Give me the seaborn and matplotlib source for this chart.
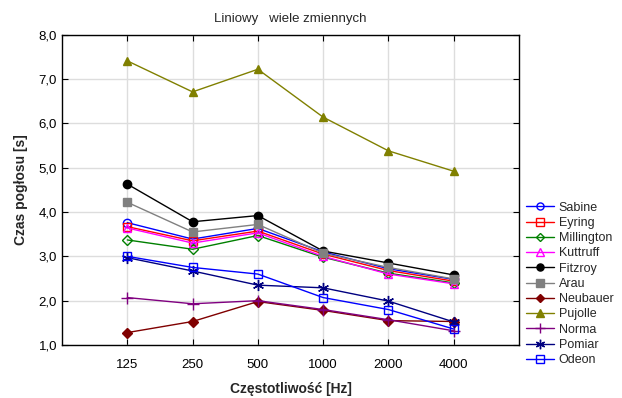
import matplotlib
matplotlib.use("Agg")
import matplotlib.pyplot as plt
import seaborn as sns
import pandas as pd

sns.set_style("white")
plt.rcParams['font.family'] = ['Liberation Sans', 'DejaVu Sans']

freqs = ["125", "250", "500", "1000", "2000", "4000"]
sabine = [3.76, 3.39, 3.63, 3.10, 2.72, 2.48]
eyring = [3.67, 3.35, 3.57, 3.05, 2.68, 2.44]
millington = [3.37, 3.16, 3.47, 2.98, 2.62, 2.40]
kuttruff = [3.64, 3.30, 3.53, 3.00, 2.60, 2.38]
fitzroy = [4.63, 3.78, 3.92, 3.12, 2.85, 2.58]
arau = [4.22, 3.55, 3.72, 3.07, 2.75, 2.49]
neubauer = [1.28, 1.53, 1.98, 1.78, 1.55, 1.53]
pujolle = [7.41, 6.71, 7.22, 6.14, 5.38, 4.92]
norma = [2.07, 1.93, 2.00, 1.80, 1.57, 1.32]
pomiar = [2.97, 2.67, 2.35, 2.29, 1.99, 1.52]
odeon = [3.00, 2.75, 2.60, 2.07, 1.80, 1.36]

series = [
    ("Sabine", sabine, "#0000FF", "o", False),
    ("Eyring", eyring, "#FF0000", "s", False),
    ("Millington", millington, "#008000", "D", False),
    ("Kuttruff", kuttruff, "#FF00FF", "^", False),
    ("Fitzroy", fitzroy, "#000000", "o", True),
    ("Arau", arau, "#808080", "s", True),
    ("Neubauer", neubauer, "#800000", "D", True),
    ("Pujolle", pujolle, "#808000", "^", True),
    ("Norma", norma, "#800080", "+", True),
    ("Pomiar", pomiar, "#000080", (6, 2, 0), True),
    ("Odeon", odeon, "#0000FF", "s", False),
]

fig = plt.figure(figsize=(6.22, 3.98), dpi=100)
ax = fig.add_axes([62/622, 1-345/398, (519-62)/622, (345-34.7)/398])

for name, vals, col, mk, filled in series:
    df = pd.DataFrame({"x": list(range(len(freqs))), "y": vals})
    ms = 6
    if mk == "D":
        ms = 5
    if mk == "+":
        ms = 8
    if isinstance(mk, tuple):
        ms = 8
    sns.lineplot(data=df, x="x", y="y", ax=ax, color=col, marker=mk,
                 markersize=ms, linewidth=1.0,
                 markerfacecolor=(col if filled else "none"),
                 markeredgecolor=col, markeredgewidth=1.0,
                 label=name)

ax.set_xlim(-1, 6)
ax.set_ylim(1, 8)
ax.set_xticks(range(len(freqs)))
ax.set_xticklabels(freqs)
yt = [1, 2, 3, 4, 5, 6, 7, 8]
ax.set_yticks(yt)
ax.set_yticklabels([f"{v:.1f}".replace(".", ",") for v in yt])
ax.grid(True, color="#dddddd", linewidth=1.0)
ax.set_axisbelow(True)
for s in ax.spines.values():
    s.set_color("black")
    s.set_linewidth(1.0)
ax.tick_params(direction="in", length=4, width=0.8, labelsize=9.5,
               top=True, right=True, bottom=True, left=True, colors="black")
ax.tick_params(axis="x", pad=10)
ax.set_xlabel("Częstotliwość [Hz]", fontsize=10, fontweight="bold", labelpad=8)
ax.set_ylabel("Czas pogłosu [s]", fontsize=10, fontweight="bold", labelpad=8)
ax.set_title("Liniowy   wiele zmiennych", fontsize=9.5, pad=9)

leg = ax.legend(loc="upper left", bbox_to_anchor=(1.005, 0.478), frameon=False,
                fontsize=9, handlelength=2.2, handletextpad=0.4,
                labelspacing=0.26, borderaxespad=0, markerscale=0.85)

fig.savefig("out.png", dpi=100)
